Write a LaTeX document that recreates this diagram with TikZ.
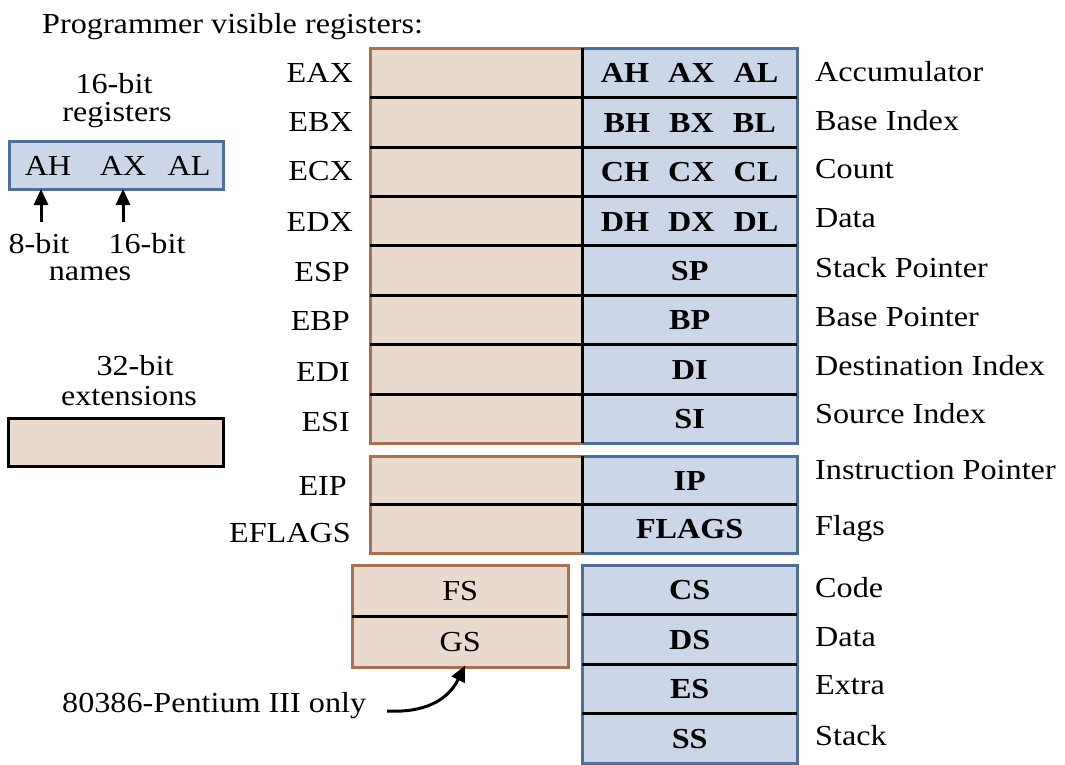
\documentclass[tikz,border=0pt]{standalone}
\usepackage{fontspec}
\setmainfont{Liberation Serif}[FakeStretch=1.11]
\usetikzlibrary{arrows.meta}
\definecolor{tanfill}{RGB}{234,217,205}
\definecolor{bluefill}{RGB}{203,215,232}
\definecolor{tanline}{RGB}{172,112,78}
\definecolor{blueline}{RGB}{78,110,156}
\tikzset{
  txt/.style={inner sep=0pt, font=\fontsize{29}{33}\selectfont},
  rlabel/.style={txt, anchor=base west},
  llabel/.style={txt, anchor=base east},
  tancell/.style={fill=tanfill, draw=none, inner sep=0pt, anchor=north west, text height=20pt, text depth=0pt, font=\fontsize{29}{33}\selectfont},
  bluecell/.style={fill=bluefill, draw=none, inner sep=0pt, anchor=north west, text height=20pt, text depth=0pt, font=\fontsize{29}{33}\selectfont\bfseries},
  sep/.style={line width=3pt, black},
  tanborder/.style={line width=3pt, draw=tanline},
  blueborder/.style={line width=3pt, draw=blueline},
  thickarrow/.style={draw=black, line width=3pt, -{Triangle[length=16pt,width=14pt]}},
}
\begin{document}
\begin{tikzpicture}[x=1pt,y=-1pt]
\useasboundingbox (0,0) rectangle (1065,764);
\fill[white] (0,0) rectangle (1065,764);

% title
\node[txt, anchor=base west] (title) at (42,33) {Programmer visible registers:};

% ---------- legend: 16-bit registers ----------
\node[txt, anchor=base] (l16a) at (114,93) {16-bit};
\node[txt, anchor=base] (l16b) at (117,121) {registers};
\node[fill=bluefill, draw=blueline, line width=3pt, minimum width=214pt, minimum height=48pt, inner sep=0pt, anchor=north west] (legbox) at (8,140) {};
\node[txt, anchor=base] (lah) at (48,175) {AH};
\node[txt, anchor=base] (lax) at (123,175) {AX};
\node[txt, anchor=base] (lal) at (189,175) {AL};
\node[txt, anchor=base] (l8bit) at (39,253) {8-bit};
\node[txt, anchor=base] (l16bit) at (147,253) {16-bit};
\node[txt, anchor=base] (lnames) at (90,280) {names};
\coordinate (a1) at (41,222);
\coordinate (a2) at (123,222);
\draw[thickarrow] (a1) -- ([yshift=2pt]a1 |- legbox.south);
\draw[thickarrow] (a2) -- ([yshift=2pt]a2 |- legbox.south);

% ---------- legend: 32-bit extensions ----------
\node[txt, anchor=base] (e32a) at (135,375) {32-bit};
\node[txt, anchor=base] (e32b) at (129,405) {extensions};
\node[fill=tanfill, draw=black, line width=3pt, minimum width=215pt, minimum height=48pt, inner sep=0pt, anchor=north west] (extbox) at (7,417) {};

% ---------- main general registers ----------
\def\rh{49.375}
\foreach \i/\blab in {1/{AH\hspace{19pt}AX\hspace{19pt}AL},2/{BH\hspace{19pt}BX\hspace{19pt}BL},3/{CH\hspace{19pt}CX\hspace{19pt}CL},4/{DH\hspace{19pt}DX\hspace{19pt}DL},5/SP,6/BP,7/DI,8/SI}{
  \pgfmathsetmacro{\yy}{48+(\i-1)*\rh}
  \node[tancell, minimum width=212pt, minimum height=\rh pt] (t\i) at (370,\yy) {};
  \node[bluecell, minimum width=215pt, minimum height=\rh pt] (b\i) at (582,\yy) {\blab};
}
\draw[tanborder] (t8.south east) -| (t1.north west) -- (t1.north east);
\draw[blueborder] (b1.north west) -- (b1.north east) |- (b8.south west);
\foreach \i in {1,...,7}{ \draw[sep] (t\i.south west) -- (b\i.south east); }
\draw[sep] (t1.north east) -- (t8.south east);

% left labels
\node[llabel] (eax) at (353,82) {EAX};
\node[llabel] (ebx) at (353,131) {EBX};
\node[llabel] (ecx) at (353,180) {ECX};
\node[llabel] (edx) at (353,231) {EDX};
\node[llabel] (esp) at (350,281) {ESP};
\node[llabel] (ebp) at (350,330) {EBP};
\node[llabel] (edi) at (350,381) {EDI};
\node[llabel] (esi) at (350,431) {ESI};
% right labels
\node[rlabel] (acc) at (815,81) {Accumulator};
\node[rlabel] (bidx) at (815,130) {Base Index};
\node[rlabel] (cnt) at (815,178) {Count};
\node[rlabel] (dat) at (815,227) {Data};
\node[rlabel] (spl) at (815,277) {Stack Pointer};
\node[rlabel] (bpl) at (815,326) {Base Pointer};
\node[rlabel] (dil) at (815,375) {Destination Index};
\node[rlabel] (sil) at (815,423) {Source Index};

% ---------- IP / FLAGS ----------
\node[tancell, minimum width=212pt, minimum height=48.5pt] (tip) at (370,456) {};
\node[bluecell, minimum width=215pt, minimum height=48.5pt] (bip) at (582,456) {IP};
\node[tancell, minimum width=212pt, minimum height=48.5pt] (tfl) at (370,504.5) {};
\node[bluecell, minimum width=215pt, minimum height=48.5pt] (bfl) at (582,504.5) {FLAGS};
\draw[tanborder] (tip.north east) -- (tip.north west) |- (tfl.south east);
\draw[blueborder] (bip.north west) -- (bip.north east) |- (bfl.south west);
\draw[sep] (tip.south west) -- (bip.south east);
\draw[sep] (tip.north east) -- (tfl.south east);
\node[llabel] (eip) at (347,495) {EIP};
\node[llabel] (eflags) at (351,542) {EFLAGS};
\node[rlabel] (ipl) at (815,479) {Instruction Pointer};
\node[rlabel] (fll) at (815,535) {Flags};

% ---------- segment registers ----------
\foreach \i/\s in {1/CS,2/DS,3/ES,4/SS}{
  \pgfmathsetmacro{\yy}{565+(\i-1)*49.5}
  \node[bluecell, minimum width=215pt, minimum height=49.5pt] (s\i) at (582,\yy) {\s};
}
\draw[blueborder] (s1.north west) rectangle (s4.south east);
\foreach \i in {1,2,3}{ \draw[sep] (s\i.south west) -- (s\i.south east); }
\node[tancell, minimum width=216pt, minimum height=51pt] (fs) at (352,565) {FS};
\node[tancell, minimum width=216pt, minimum height=51pt] (gs) at (352,616) {GS};
\draw[tanborder] (fs.north west) rectangle (gs.south east);
\draw[sep] (fs.south west) -- (fs.south east);
\node[rlabel] (code) at (815,597) {Code};
\node[rlabel] (dseg) at (815,646) {Data};
\node[rlabel] (extra) at (815,694) {Extra};
\node[rlabel] (stack) at (815,745) {Stack};

% note
\node[txt, anchor=base west] (note) at (62,712) {80386-Pentium III only};
\coordinate (nstart) at (387,711);
\draw[thickarrow] (nstart) .. controls (425,713) and (448,700) .. ([xshift=5pt,yshift=2pt]gs.south);
\end{tikzpicture}
\end{document}
